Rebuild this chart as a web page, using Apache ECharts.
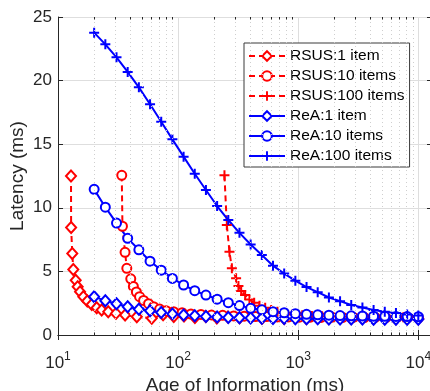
<!DOCTYPE html>
<html><head><meta charset="utf-8">
<script src="https://cdn.jsdelivr.net/npm/echarts@6/dist/echarts.min.js"></script>
<style>html,body{margin:0;padding:0;background:#fff}#c{width:430px;height:391px}</style>
</head><body><div id="c"></div>
<script>
// ---- data ----
const reaAge = [20, 24.78, 30.70, 38.04, 47.13, 58.40, 72.35, 89.64, 111.1, 137.6, 170.5, 211.3, 261.8, 324.3, 401.8, 497.8, 616.8, 764.2, 946.7, 1173, 1453, 1801, 2231, 2764, 3425, 4243, 5257, 6514, 8070, 10000];
const reA1 = [3.0, 2.7, 2.45, 2.22, 2.02, 1.9, 1.77, 1.66, 1.57, 1.51, 1.45, 1.41, 1.38, 1.35, 1.33, 1.31, 1.3, 1.29, 1.28, 1.27, 1.27, 1.26, 1.26, 1.25, 1.25, 1.24, 1.24, 1.24, 1.23, 1.23];
const reA10 = [11.45, 10.05, 8.8, 7.6, 6.7, 5.8, 5.1, 4.45, 3.93, 3.48, 3.14, 2.82, 2.54, 2.31, 2.1, 1.98, 1.83, 1.75, 1.68, 1.63, 1.59, 1.56, 1.53, 1.51, 1.5, 1.48, 1.47, 1.46, 1.45, 1.44];
const reA100 = [23.77, 22.85, 21.83, 20.68, 19.47, 18.14, 16.77, 15.38, 14.02, 12.68, 11.4, 10.14, 9.04, 8.03, 7.12, 6.29, 5.45, 4.83, 4.27, 3.77, 3.37, 2.95, 2.66, 2.36, 2.16, 1.97, 1.83, 1.72, 1.62, 1.53];

const rsus1Age = [12.83, 12.86, 13.15, 13.41, 14.04, 14.58, 15.26, 16.25, 17.54, 19.1, 21.0, 23.1, 26.2, 30.4, 36.2, 45.3, 60.4, 75, 92, 112, 138, 170, 210, 260, 325, 400, 500, 615, 765, 945, 1170, 1450, 1800, 2230, 2760, 3420, 4240, 5260, 6510, 8070, 10000];
const rsus1Lat = [12.5, 8.45, 6.4, 5.15, 4.3, 3.8, 3.4, 3.0, 2.67, 2.4, 2.15, 1.97, 1.83, 1.7, 1.57, 1.44, 1.31, 1.6, 1.45, 1.5, 1.38, 1.45, 1.33, 1.42, 1.35, 1.4, 1.32, 1.38, 1.3, 1.36, 1.3, 1.35, 1.3, 1.33, 1.3, 1.32, 1.28, 1.3, 1.28, 1.3, 1.27];

const rsus10Age = [33.95, 34.4, 36.17, 37.4, 40.35, 42.42, 44.93, 47.75, 51.58, 56.75, 62.5, 70.2, 79.4, 91.7, 108, 128, 155, 190, 235, 290, 355, 440, 545, 670, 830, 1020, 1260, 1550, 1910, 2350, 2890, 3550, 4370, 5370, 6610, 8130, 10000];
const rsus10Lat = [12.55, 8.55, 6.5, 5.24, 4.42, 3.82, 3.38, 3.01, 2.72, 2.46, 2.22, 2.04, 1.91, 1.83, 1.75, 1.65, 1.62, 1.58, 1.55, 1.5, 1.48, 1.45, 1.45, 1.42, 1.42, 1.4, 1.4, 1.38, 1.4, 1.38, 1.38, 1.37, 1.38, 1.36, 1.37, 1.36, 1.35];

const rsus100Age = [243.2, 254.5, 267.7, 280.3, 304, 318, 335, 361.6, 392.7, 429.9, 475.9, 530.9, 595.7, 672, 764, 900, 1080, 1300, 1580, 1920, 2330, 2830, 3440, 4180, 5080, 6170, 7500, 10000];
const rsus100Lat = [12.55, 8.65, 6.55, 5.24, 4.46, 3.85, 3.46, 3.14, 2.8, 2.54, 2.3, 2.15, 1.97, 1.83, 1.7, 1.62, 1.55, 1.5, 1.47, 1.45, 1.43, 1.42, 1.41, 1.4, 1.4, 1.39, 1.39, 1.38];

const seriesNames = ['RSUS:1 item', 'RSUS:10 items', 'RSUS:100 items', 'ReA:1 item', 'ReA:10 items', 'ReA:100 items'];
const xMajorTicks = [10, 100, 1000, 10000];
const xMinorTicks = [20, 30, 40, 50, 60, 70, 80, 90, 200, 300, 400, 500, 600, 700, 800, 900, 2000, 3000, 4000, 5000, 6000, 7000, 8000, 9000];
const yTicks = [0, 5, 10, 15, 20, 25];

// ---- chart ----
const FONT = '"Liberation Sans", Arial, Helvetica, sans-serif';
const AX = '#262626';
const RED = '#ff0000', BLUE = '#0000ff';
const PLUS = 'path://M4,0H6V4H10V6H6V10H4V6H0V4H4Z';
const zip = (a, b) => a.map((v, i) => [v, b[i]]);

function xLabel(v) {
  const e = Math.round(Math.log10(v));
  if (Math.abs(v - Math.pow(10, e)) > 1e-6 * v) return '';
  if (xMajorTicks.indexOf(Math.pow(10, e)) < 0) return '';
  return '{b|10}{s|' + e + '}';
}

const minorLines = xMinorTicks.map(v => ({ xAxis: v, lineStyle: { type: [1, 3], color: '#cfcfcf', width: 1 } }));
const minorTickSegs = [];
xMinorTicks.forEach(v => {
  minorTickSegs.push([{ coord: [v, 0], lineStyle: { type: 'solid', color: AX, width: 1 } }, { coord: [v, 0.2] }]);
  minorTickSegs.push([{ coord: [v, 25], lineStyle: { type: 'solid', color: AX, width: 1 } }, { coord: [v, 24.8] }]);
});

function dataSeries(name, data, color, dashed, symbol, size, bw) {
  return {
    name, type: 'line', data, xAxisIndex: 0, yAxisIndex: 0,
    symbol, symbolSize: size, showAllSymbol: true,
    lineStyle: { color, width: 2, type: dashed ? [6, 4] : 'solid' },
    itemStyle: { color, borderWidth: bw },
    emphasis: { disabled: true }, clip: true
  };
}

const chart = echarts.init(document.getElementById('c'), null, { renderer: 'canvas' });
chart.setOption({
  animation: false,
  backgroundColor: '#fff',
  textStyle: { fontFamily: FONT },
  grid: { left: 58, top: 17, width: 374, height: 318, show: false, containLabel: false, outerBoundsMode: 'none' },
  legend: {
    data: seriesNames, orient: 'vertical', left: 244, top: 43,
    itemWidth: 36, itemHeight: 12, itemGap: 4,
    padding: [5, 5, 3, 4], backgroundColor: '#fff', borderColor: '#3a3a3a', borderWidth: 1,
    textStyle: { fontFamily: FONT, fontSize: 15.5, color: '#000', lineHeight: 16 },
    selectedMode: false
  },
  xAxis: [{
    type: 'log', logBase: 10, min: 10, max: 13000, position: 'bottom',
    axisLine: { lineStyle: { color: AX, width: 1 } },
    axisTick: { inside: true, length: 5, lineStyle: { color: AX } },
    axisLabel: {
      formatter: xLabel, margin: 16, color: AX, fontFamily: FONT,
      rich: { b: { fontSize: 17, fontFamily: FONT, color: AX }, s: { fontSize: 12, fontFamily: FONT, color: AX, padding: [0, 0, 12, 0] } }
    },
    splitLine: { show: true, lineStyle: { color: '#dedede', width: 1 } },
    name: 'Age of Information (ms)', nameLocation: 'middle', nameGap: 41,
    nameTextStyle: { fontSize: 19, color: AX, fontFamily: FONT }
  }, {
    type: 'log', logBase: 10, min: 10, max: 13000, position: 'top',
    axisLine: { lineStyle: { color: AX, width: 1 } },
    axisTick: { inside: true, length: 5, lineStyle: { color: AX } },
    axisLabel: { show: false }, splitLine: { show: false }
  }],
  yAxis: [{
    type: 'value', min: 0, max: 25, interval: 5,
    axisLine: { show: true, lineStyle: { color: AX, width: 1 } },
    axisTick: { show: true, inside: true, length: 5, lineStyle: { color: AX } },
    axisLabel: { fontSize: 17, color: AX, margin: 6, fontFamily: FONT,
      formatter: v => (yTicks.indexOf(v) >= 0 ? String(v) : '') },
    splitLine: { show: true, lineStyle: { color: '#dedede', width: 1 } },
    name: 'Latency (ms)', nameLocation: 'middle', nameGap: 31, nameMoveOverlap: false,
    nameTextStyle: { fontSize: 19, color: AX, fontFamily: FONT }
  }, {
    type: 'value', min: 0, max: 25, interval: 5, position: 'right',
    axisLine: { show: true, lineStyle: { color: AX, width: 1 } },
    axisTick: { show: true, inside: true, length: 5, lineStyle: { color: AX } },
    axisLabel: { show: false }, splitLine: { show: false }
  }],
  series: [
    {
      name: 'grid-helper', type: 'line', data: [], xAxisIndex: 0, yAxisIndex: 0, z: 1,
      markLine: { silent: true, symbol: ['none', 'none'], label: { show: false }, animation: false,
        emphasis: { disabled: true },
        data: minorLines.concat(minorTickSegs) }
    },
    dataSeries(seriesNames[0], zip(rsus1Age, rsus1Lat), RED, true, 'emptyDiamond', [10, 11], 2),
    dataSeries(seriesNames[1], zip(rsus10Age, rsus10Lat), RED, true, 'emptyCircle', 9, 2),
    dataSeries(seriesNames[2], zip(rsus100Age, rsus100Lat), RED, true, PLUS, 10, 0),
    dataSeries(seriesNames[3], zip(reaAge, reA1), BLUE, false, 'emptyDiamond', [10, 11], 2),
    dataSeries(seriesNames[4], zip(reaAge, reA10), BLUE, false, 'emptyCircle', 9, 2),
    dataSeries(seriesNames[5], zip(reaAge, reA100), BLUE, false, PLUS, 10, 0)
  ]
});
</script></body></html>
